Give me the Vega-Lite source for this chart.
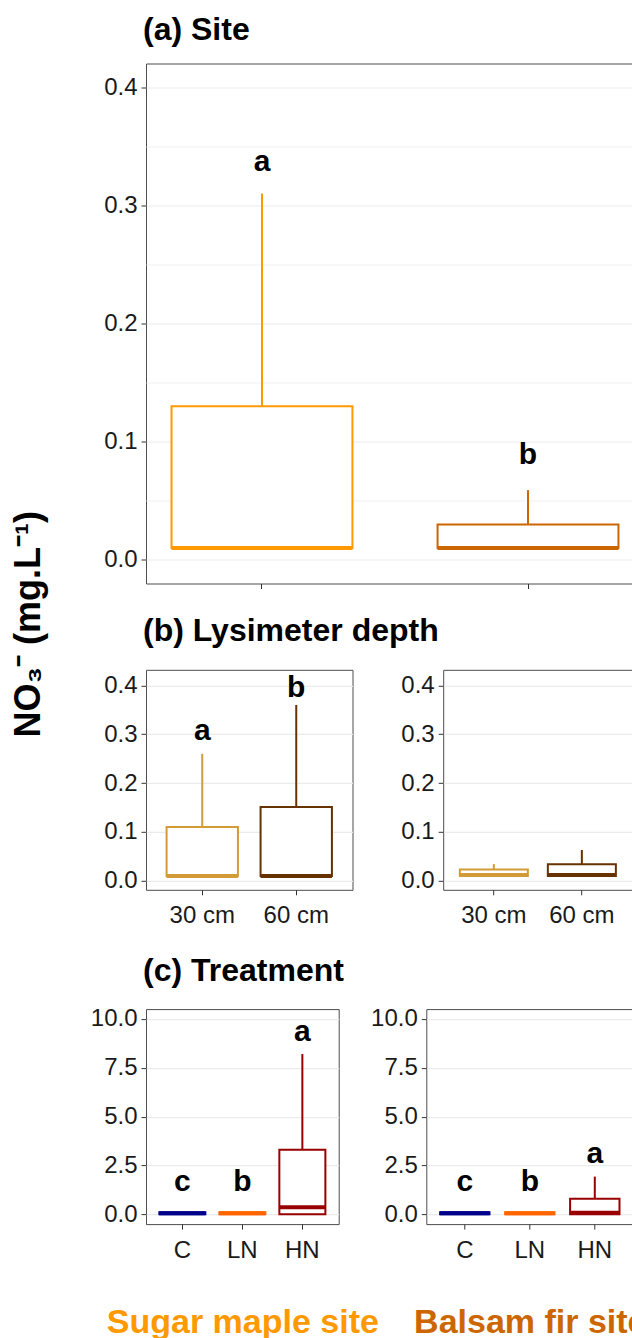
{
  "$schema": "https://vega.github.io/schema/vega-lite/v6.json",
  "background": "white",
  "padding": {"left": 10, "top": 12.5, "right": 0, "bottom": 0},
  "config": {
    "font": "Liberation Sans",
    "view": {"stroke": "#4d4d4d", "strokeWidth": 1},
    "axisY": {"grid": true, "domain": false, "tickSize": 5, "tickColor": "#333333", "labelFontSize": 24, "labelPadding": 4, "labelColor": "#1a1a1a", "labelFont": "Liberation Sans", "gridColor": "#ebebeb", "gridWidth": 1.2},
    "axisX": {"grid": false, "domain": false, "tickSize": 5, "tickColor": "#333333", "labelFontSize": 24, "labelPadding": 9, "labelColor": "#1a1a1a", "labelFont": "Liberation Sans", "labelAngle": 0},
    "title": {"font": "Liberation Sans", "fontSize": 32, "fontWeight": "bold", "anchor": "start", "frame": "group", "color": "black", "dx": -3},
    "text": {"font": "Liberation Sans", "fontSize": 30, "fontWeight": "bold", "color": "black", "align": "center", "baseline": "alphabetic"}
  },
  "title": {"text": "NO₃⁻ (mg.L⁻¹)", "orient": "left", "anchor": "middle", "frame": "bounds", "fontSize": 36, "fontWeight": "bold", "offset": 42, "dx": 52},
  "datasets": {
    "site": [
      {"site": "Sugar maple", "q1": 0.01, "med": 0.01, "q3": 0.13, "up": 0.31, "letter": "a", "letter_y": 0.329},
      {"site": "Balsam fir", "q1": 0.01, "med": 0.01, "q3": 0.03, "up": 0.059, "letter": "b", "letter_y": 0.0815}
    ],
    "depth": [
      {"site": "Sugar maple", "depth": "30 cm", "q1": 0.01, "med": 0.01, "q3": 0.11, "up": 0.26, "letter": "a", "letter_y": 0.289},
      {"site": "Sugar maple", "depth": "60 cm", "q1": 0.01, "med": 0.01, "q3": 0.151, "up": 0.36, "letter": "b", "letter_y": 0.376},
      {"site": "Balsam fir", "depth": "30 cm", "q1": 0.01, "med": 0.012, "q3": 0.023, "up": 0.034, "letter": "", "letter_y": 0.05},
      {"site": "Balsam fir", "depth": "60 cm", "q1": 0.01, "med": 0.012, "q3": 0.034, "up": 0.063, "letter": "", "letter_y": 0.08}
    ],
    "trt": [
      {"site": "Sugar maple", "trt": "C", "q1": 0.0, "med": 0.05, "q3": 0.1, "up": 0.1, "letter": "c", "letter_y": 1.21},
      {"site": "Sugar maple", "trt": "LN", "q1": 0.0, "med": 0.05, "q3": 0.1, "up": 0.1, "letter": "b", "letter_y": 1.21},
      {"site": "Sugar maple", "trt": "HN", "q1": 0.0, "med": 0.36, "q3": 3.3, "up": 8.2, "letter": "a", "letter_y": 8.89},
      {"site": "Balsam fir", "trt": "C", "q1": 0.0, "med": 0.05, "q3": 0.1, "up": 0.1, "letter": "c", "letter_y": 1.21},
      {"site": "Balsam fir", "trt": "LN", "q1": 0.0, "med": 0.05, "q3": 0.1, "up": 0.1, "letter": "b", "letter_y": 1.21},
      {"site": "Balsam fir", "trt": "HN", "q1": 0.0, "med": 0.08, "q3": 0.8, "up": 1.93, "letter": "a", "letter_y": 2.61}
    ]
  },
  "spacing": 25.3,
  "resolve": {"scale": {"x": "independent", "y": "independent", "stroke": "independent"}},
  "vconcat": [
    {
      "data": {"name": "site"},
      "width": 498,
      "height": 520,
      "title": {"text": "(a) Site", "offset": 17},
      "encoding": {
        "x": {"field": "site", "type": "nominal", "sort": ["Sugar maple", "Balsam fir"], "scale": {"paddingInner": 0.32, "paddingOuter": 0.096}, "axis": {"title": null, "labels": false, "ticks": true}},
        "stroke": {"field": "site", "type": "nominal", "scale": {"domain": ["Sugar maple", "Balsam fir"], "range": ["#FF9900", "#CC6600"]}, "legend": null}
      },
      "layer": [
        {"mark": {"type": "rule", "strokeWidth": 2}, "encoding": {
          "y": {"field": "q3", "type": "quantitative", "scale": {"domain": [-0.02, 0.42], "nice": false, "zero": false}, "axis": {"title": null, "values": [0, 0.05, 0.1, 0.15, 0.2, 0.25, 0.3, 0.35, 0.4], "labelExpr": "abs(datum.value*10 - round(datum.value*10)) > 0.01 ? '' : format(datum.value, '.1f')", "tickOpacity": {"condition": {"test": "abs(datum.value*10 - round(datum.value*10)) > 0.01", "value": 0}, "value": 1}, "gridColor": {"condition": {"test": "abs(datum.value*10 - round(datum.value*10)) > 0.01", "value": "#f2f2f2"}, "value": "#ebebeb"}}},
          "y2": {"field": "up"}}},
        {"mark": {"type": "bar", "fill": "white", "strokeWidth": 2}, "encoding": {"y": {"field": "q1", "type": "quantitative"}, "y2": {"field": "q3"}}},
        {"mark": {"type": "bar", "fill": "white", "strokeWidth": 4}, "encoding": {"y": {"field": "med", "type": "quantitative"}, "y2": {"field": "med"}}},
        {"mark": {"type": "text"}, "encoding": {"y": {"field": "letter_y", "type": "quantitative"}, "text": {"field": "letter"}, "stroke": {"value": null}}}
      ]
    },
    {
      "hconcat": [
        {
          "data": {"name": "depth"},
          "transform": [{"filter": "datum.site === 'Sugar maple'"}],
          "width": 206.5,
          "height": 220,
          "title": {"text": "(b) Lysimeter depth", "offset": 21.5},
          "encoding": {
            "x": {"field": "depth", "type": "nominal", "sort": ["30 cm", "60 cm"], "scale": {"paddingInner": 0.241, "paddingOuter": 0.219}, "axis": {"title": null}},
            "stroke": {"field": "depth", "type": "nominal", "scale": {"domain": ["30 cm", "60 cm"], "range": ["#D29B37", "#663300"]}, "legend": null}
          },
          "layer": [
            {"mark": {"type": "rule", "strokeWidth": 2}, "encoding": {
              "y": {"field": "q3", "type": "quantitative", "scale": {"domain": [-0.0185, 0.432], "nice": false, "zero": false}, "axis": {"title": null, "values": [0, 0.05, 0.1, 0.15, 0.2, 0.25, 0.3, 0.35, 0.4], "labelExpr": "abs(datum.value*10 - round(datum.value*10)) > 0.01 ? '' : format(datum.value, '.1f')", "tickOpacity": {"condition": {"test": "abs(datum.value*10 - round(datum.value*10)) > 0.01", "value": 0}, "value": 1}, "gridColor": {"condition": {"test": "abs(datum.value*10 - round(datum.value*10)) > 0.01", "value": "#f2f2f2"}, "value": "#ebebeb"}}},
              "y2": {"field": "up"}}},
            {"mark": {"type": "bar", "fill": "white", "strokeWidth": 2}, "encoding": {"y": {"field": "q1", "type": "quantitative"}, "y2": {"field": "q3"}}},
            {"mark": {"type": "bar", "fill": "white", "strokeWidth": 4}, "encoding": {"y": {"field": "med", "type": "quantitative"}, "y2": {"field": "med"}}},
            {"mark": {"type": "text"}, "encoding": {"y": {"field": "letter_y", "type": "quantitative"}, "text": {"field": "letter"}, "stroke": {"value": null}}}
          ]
        },
        {
          "data": {"name": "depth"},
          "transform": [{"filter": "datum.site === 'Balsam fir'"}],
          "width": 189.3,
          "height": 220,
          "encoding": {
            "x": {"field": "depth", "type": "nominal", "sort": ["30 cm", "60 cm"], "scale": {"paddingInner": 0.227, "paddingOuter": 0.189}, "axis": {"title": null}},
            "stroke": {"field": "depth", "type": "nominal", "scale": {"domain": ["30 cm", "60 cm"], "range": ["#D29B37", "#663300"]}, "legend": null}
          },
          "layer": [
            {"mark": {"type": "rule", "strokeWidth": 2}, "encoding": {
              "y": {"field": "q3", "type": "quantitative", "scale": {"domain": [-0.0185, 0.432], "nice": false, "zero": false}, "axis": {"title": null, "values": [0, 0.05, 0.1, 0.15, 0.2, 0.25, 0.3, 0.35, 0.4], "labelExpr": "abs(datum.value*10 - round(datum.value*10)) > 0.01 ? '' : format(datum.value, '.1f')", "tickOpacity": {"condition": {"test": "abs(datum.value*10 - round(datum.value*10)) > 0.01", "value": 0}, "value": 1}, "gridColor": {"condition": {"test": "abs(datum.value*10 - round(datum.value*10)) > 0.01", "value": "#f2f2f2"}, "value": "#ebebeb"}}},
              "y2": {"field": "up"}}},
            {"mark": {"type": "bar", "fill": "white", "strokeWidth": 2}, "encoding": {"y": {"field": "q1", "type": "quantitative"}, "y2": {"field": "q3"}}},
            {"mark": {"type": "bar", "fill": "white", "strokeWidth": 4}, "encoding": {"y": {"field": "med", "type": "quantitative"}, "y2": {"field": "med"}}}
          ]
        }
      ],
      "spacing": 90.2,
      "bounds": "flush",
      "resolve": {"scale": {"x": "independent", "y": "independent", "stroke": "independent"}}
    },
    {
      "hconcat": [
        {
          "data": {"name": "trt"},
          "transform": [{"filter": "datum.site === 'Sugar maple'"}],
          "width": 192.7,
          "height": 215,
          "title": {"text": "(c) Treatment", "offset": 19},
          "encoding": {
            "x": {"field": "trt", "type": "nominal", "sort": ["C", "LN", "HN"], "scale": {"paddingInner": 0.233, "paddingOuter": 0.222}, "axis": {"title": "Sugar maple site", "titleColor": "#FF9900", "titleFontSize": 34, "titleFontWeight": "bold", "titleFont": "Liberation Sans", "titlePadding": 43}},
            "stroke": {"field": "trt", "type": "nominal", "scale": {"domain": ["C", "LN", "HN"], "range": ["#00008B", "#FF6600", "#990000"]}, "legend": null}
          },
          "layer": [
            {"mark": {"type": "rule", "strokeWidth": 2}, "encoding": {
              "y": {"field": "q3", "type": "quantitative", "scale": {"domain": [-0.5, 10.5], "nice": false, "zero": false}, "axis": {"title": null, "values": [0, 1.25, 2.5, 3.75, 5, 6.25, 7.5, 8.75, 10], "labelExpr": "abs(datum.value/2.5 - round(datum.value/2.5)) > 0.01 ? '' : format(datum.value, '.1f')", "tickOpacity": {"condition": {"test": "abs(datum.value/2.5 - round(datum.value/2.5)) > 0.01", "value": 0}, "value": 1}, "gridColor": {"condition": {"test": "abs(datum.value/2.5 - round(datum.value/2.5)) > 0.01", "value": "#f2f2f2"}, "value": "#ebebeb"}}},
              "y2": {"field": "up"}}},
            {"mark": {"type": "bar", "fill": "white", "strokeWidth": 2}, "encoding": {"y": {"field": "q1", "type": "quantitative"}, "y2": {"field": "q3"}}},
            {"mark": {"type": "bar", "fill": "white", "strokeWidth": 4}, "encoding": {"y": {"field": "med", "type": "quantitative"}, "y2": {"field": "med"}}},
            {"mark": {"type": "text"}, "encoding": {"y": {"field": "letter_y", "type": "quantitative"}, "text": {"field": "letter"}, "stroke": {"value": null}}}
          ]
        },
        {
          "data": {"name": "trt"},
          "transform": [{"filter": "datum.site === 'Balsam fir'"}],
          "width": 207,
          "height": 215,
          "encoding": {
            "x": {"field": "trt", "type": "nominal", "sort": ["C", "LN", "HN"], "scale": {"paddingInner": 0.24, "paddingOuter": 0.2125}, "axis": {"title": "Balsam fir site", "titleColor": "#CC6600", "titleFontSize": 34, "titleFontWeight": "bold", "titleFont": "Liberation Sans", "titlePadding": 43}},
            "stroke": {"field": "trt", "type": "nominal", "scale": {"domain": ["C", "LN", "HN"], "range": ["#00008B", "#FF6600", "#990000"]}, "legend": null}
          },
          "layer": [
            {"mark": {"type": "rule", "strokeWidth": 2}, "encoding": {
              "y": {"field": "q3", "type": "quantitative", "scale": {"domain": [-0.5, 10.5], "nice": false, "zero": false}, "axis": {"title": null, "values": [0, 1.25, 2.5, 3.75, 5, 6.25, 7.5, 8.75, 10], "labelExpr": "abs(datum.value/2.5 - round(datum.value/2.5)) > 0.01 ? '' : format(datum.value, '.1f')", "tickOpacity": {"condition": {"test": "abs(datum.value/2.5 - round(datum.value/2.5)) > 0.01", "value": 0}, "value": 1}, "gridColor": {"condition": {"test": "abs(datum.value/2.5 - round(datum.value/2.5)) > 0.01", "value": "#f2f2f2"}, "value": "#ebebeb"}}},
              "y2": {"field": "up"}}},
            {"mark": {"type": "bar", "fill": "white", "strokeWidth": 2}, "encoding": {"y": {"field": "q1", "type": "quantitative"}, "y2": {"field": "q3"}}},
            {"mark": {"type": "bar", "fill": "white", "strokeWidth": 4}, "encoding": {"y": {"field": "med", "type": "quantitative"}, "y2": {"field": "med"}}},
            {"mark": {"type": "text"}, "encoding": {"y": {"field": "letter_y", "type": "quantitative"}, "text": {"field": "letter"}, "stroke": {"value": null}}}
          ]
        }
      ],
      "spacing": 87.3,
      "bounds": "flush",
      "resolve": {"scale": {"x": "independent", "y": "independent", "stroke": "independent"}}
    }
  ]
}
